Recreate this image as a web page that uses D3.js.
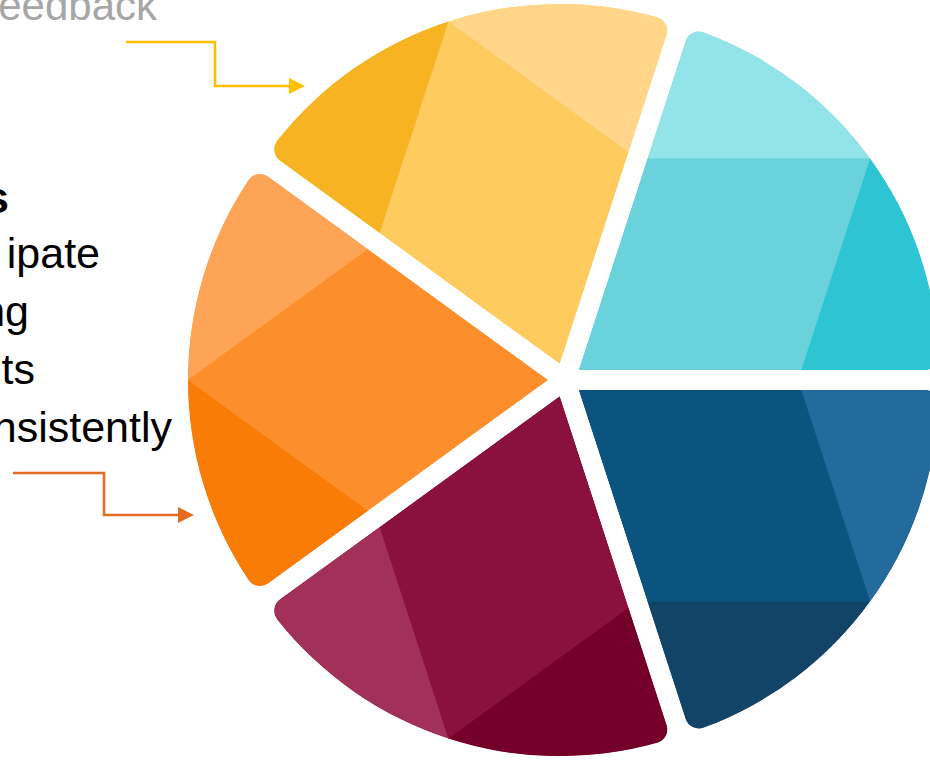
<!DOCTYPE html>
<html><head><meta charset="utf-8">
<script src="https://cdn.jsdelivr.net/npm/d3@7"></script>
<style>html,body{margin:0;padding:0;background:#fff;overflow:hidden}svg{display:block}</style>
</head><body>
<script>
// ---- data ----
const segments = ["Teal", "Blue", "Maroon", "Orange", "Gold"];
const values = [1, 1, 1, 1, 1];
const startColors = ["#93E3EA", "#236B9C", "#74002A", "#F97C07", "#F8B323"];
const midColors   = ["#69D2DB", "#0C5480", "#8A103D", "#FC8F2B", "#FECB5F"];
const endColors   = ["#2DC5D2", "#124467", "#A2315A", "#FEA457", "#FFD68A"];
const labelTexts = ["Feedback", "s", "ipate", "ng", "ts", "consistently"];
const arrowColors = ["#FFC000", "#E36C1F"];

// ---- layout ----
const W = 930, H = 760;
const cx = 565, cy = 380, R = 360, explode = 17, corner = 14;
const deg = Math.PI / 180;

const svg = d3.select("body").append("svg").attr("width", W).attr("height", H);
const defs = svg.append("defs");

const pie = d3.pie().sort(null).value(d => d)
  .startAngle(18 * deg).endAngle(18 * deg + 2 * Math.PI);
const arcs = pie(values);
const arcGen = d3.arc().innerRadius(0).outerRadius(R).cornerRadius(corner);
const u = a => [Math.sin(a), -Math.cos(a)];
const s = R / (2 * Math.cos(36 * deg));

arcs.forEach((a, i) => {
  const mid = (a.startAngle + a.endAngle) / 2;
  const um = u(mid), us = u(a.startAngle), ue = u(a.endAngle);
  const g = svg.append("g")
    .attr("transform", `translate(${cx + explode * um[0]},${cy + explode * um[1]})`);
  const id = "clip" + i;
  defs.append("clipPath").attr("id", id).append("path").attr("d", arcGen(a));
  const P = [s * us[0], s * us[1]], Q = [s * ue[0], s * ue[1]], T = [R * um[0], R * um[1]];
  const far = 2 * R;
  const inner = g.append("g").attr("clip-path", `url(#${id})`);
  inner.append("path").attr("d", arcGen(a)).attr("fill", midColors[i]);
  const line = d3.line();
  inner.append("path").attr("fill", startColors[i]).attr("stroke", startColors[i]).attr("stroke-width", 0.5)
    .attr("d", line([P, [far * us[0], far * us[1]], [far * um[0], far * um[1]], T]) + "Z");
  inner.append("path").attr("fill", endColors[i]).attr("stroke", endColors[i]).attr("stroke-width", 0.5)
    .attr("d", line([Q, [far * ue[0], far * ue[1]], [far * um[0], far * um[1]], T]) + "Z");
  inner.append("path").attr("fill", midColors[i])
    .attr("d", line([[0, 0], P, T, Q]) + "Z");
});

// ---- text ----
const font = "'Liberation Sans', Arial, sans-serif";
const textPos = [
  {x: 157, y: 20, size: 42, w: 400, c: "#A6A6A6"},
  {x: 9,   y: 213, size: 45, w: 700, c: "#000"},
  {x: 100, y: 268, size: 43, w: 400, c: "#000"},
  {x: 29,  y: 326, size: 43, w: 400, c: "#000"},
  {x: 35,  y: 384, size: 43, w: 400, c: "#000"},
  {x: 172, y: 442, size: 43, w: 400, c: "#000"}
];
labelTexts.forEach((t, i) => {
  const p = textPos[i];
  svg.append("text").attr("x", p.x).attr("y", p.y).attr("text-anchor", "end")
    .attr("font-family", font).attr("font-size", p.size).attr("font-weight", p.w)
    .attr("fill", p.c).text(t);
});

// ---- arrows ----
const arrowPaths = [
  {pts: [[126, 42], [215, 42], [215, 86], [290, 86]], tip: [305, 86]},
  {pts: [[13, 473], [104, 473], [104, 515], [180, 515]], tip: [194, 515]}
];
arrowPaths.forEach((a, i) => {
  svg.append("path").attr("d", d3.line()(a.pts)).attr("fill", "none")
    .attr("stroke", arrowColors[i]).attr("stroke-width", 2.6);
  const [tx, ty] = a.tip, L = 16, hw = 8;
  svg.append("path").attr("fill", arrowColors[i])
    .attr("d", d3.line()([[tx, ty], [tx - L, ty - hw], [tx - L, ty + hw]]) + "Z");
});
</script>
</body></html>
